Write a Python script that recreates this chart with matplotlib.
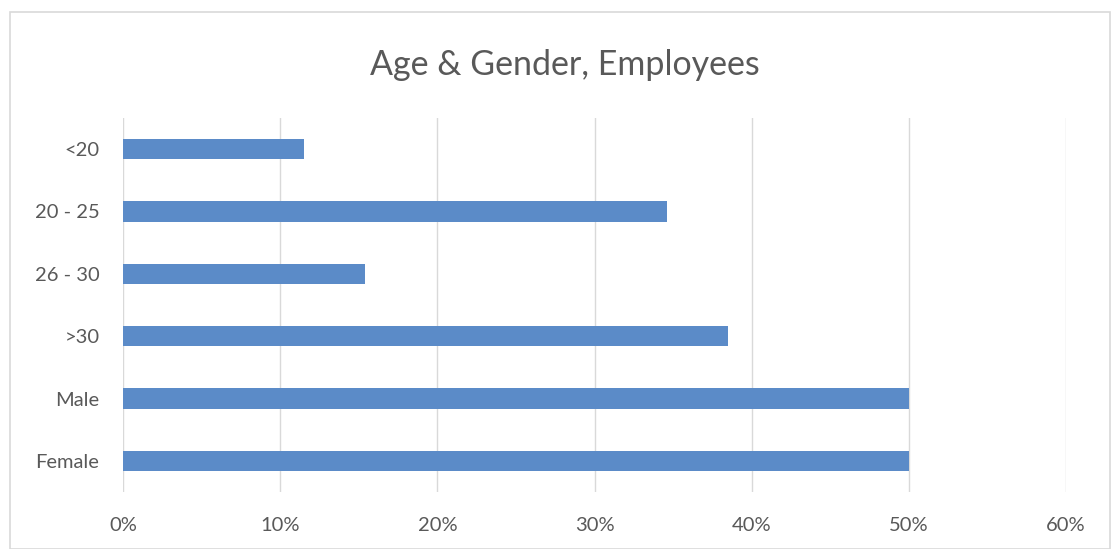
import matplotlib
matplotlib.use("Agg")
import matplotlib.pyplot as plt
from matplotlib.ticker import FuncFormatter
from matplotlib.patches import Rectangle

categories = ["<20", "20 - 25", "26 - 30", ">30", "Male", "Female"]
shares = [11.5, 34.6, 15.4, 38.5, 50.0, 50.0]
x_ticks = [0, 10, 20, 30, 40, 50, 60]

BAR = "#5b8bc8"
GRID = "#d9d9d9"
TXT = "#595959"

plt.rcParams["font.family"] = ["Lato", "DejaVu Sans"]

fig = plt.figure(figsize=(11.2, 5.49), dpi=100)
# chart frame like excel
fig.patches.append(Rectangle((10/1120, 0.0), 1100/1120, 1 - 12/549,
                             transform=fig.transFigure, fill=False,
                             edgecolor="#d9d9d9", linewidth=1.2))
ax = fig.add_axes([123/1120, 1 - 492/549, 943/1120, 374/549])

ypos = list(range(len(categories)))
ax.barh(ypos, shares, height=0.33, color=BAR, zorder=3)
ax.set_yticks(ypos)
ax.set_yticklabels(categories)
ax.set_ylim(len(categories) - 0.5, -0.5)
ax.set_xlim(0, 60)
ax.set_xticks(x_ticks)
ax.xaxis.set_major_formatter(FuncFormatter(lambda v, p: f"{v:.0f}%"))
ax.grid(axis="x", color=GRID, linewidth=1, zorder=0)
for s in ax.spines.values():
    s.set_visible(False)
ax.tick_params(length=0, colors=TXT, labelsize=14.5)
ax.tick_params(axis="x", pad=18)
ax.tick_params(axis="y", pad=17)

fig.text(565/1120, 1 - 65/549, "Age & Gender, Employees", ha="center",
         va="center", fontsize=24.5, color=TXT)

fig.savefig("out.png", dpi=100, facecolor="white")
